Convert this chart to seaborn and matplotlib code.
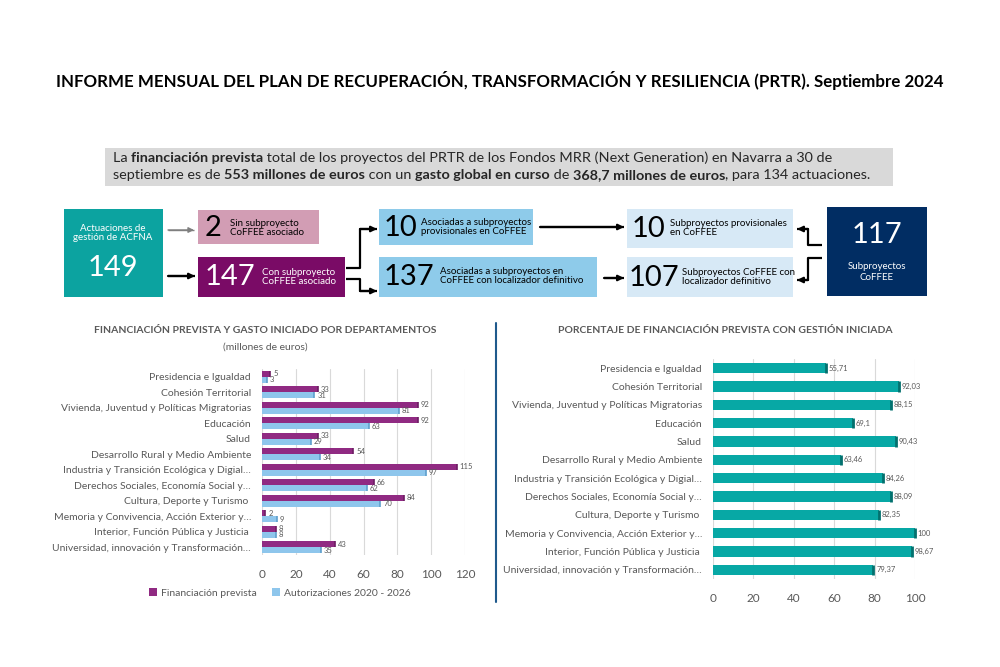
import matplotlib
matplotlib.use("Agg")
import matplotlib.pyplot as plt
import matplotlib.patches as mpatches
import seaborn as sns
import pandas as pd

# data
departments = [
    "Presidencia e Igualdad",
    "Cohesión Territorial",
    "Vivienda, Juventud y Políticas Migratorias",
    "Educación",
    "Salud",
    "Desarrollo Rural y Medio Ambiente",
    "Industria y Transición Ecológica y Digial…",
    "Derechos Sociales, Economía Social y…",
    "Cultura, Deporte y Turismo ",
    "Memoria y Convivencia, Acción Exterior y…",
    "Interior, Función Pública y Justicia ",
    "Universidad, innovación y Transformación…",
]
financiacion_prevista = [5, 33, 92, 92, 33, 54, 115, 66, 84, 2, 8, 43]
autorizaciones = [3, 31, 81, 63, 29, 34, 97, 62, 70, 9, 8, 35]
porcentaje_gestion = [55.71, 92.03, 88.15, 69.1, 90.43, 63.46, 84.26, 88.09, 82.35, 100, 98.67, 79.37]
left_ticks = [0, 20, 40, 60, 80, 100, 120]
right_ticks = [0, 20, 40, 60, 80, 100]
series_names = ["Financiación prevista", "Autorizaciones 2020 - 2026"]

PURPLE = "#902a82"
LIGHT_BLUE = "#8ec6ec"
TEAL = "#07a8a5"
GRAY_TEXT = "#595959"

sns.set_theme(style="white")
plt.rcParams["font.family"] = ["Lato", "DejaVu Sans"]

fig = plt.figure(figsize=(10, 6.67), dpi=100)

# overlay in pixel coordinates for the infographic part
ov = fig.add_axes([0, 0, 1, 1], zorder=0)
ov.set_xlim(0, 1000)
ov.set_ylim(667, 0)
ov.axis("off")

ov.text(500, 80, "INFORME MENSUAL DEL PLAN DE RECUPERACIÓN, TRANSFORMACIÓN Y RESILIENCIA (PRTR). Septiembre 2024",
        ha="center", va="center", fontsize=12.2, fontweight="bold", color="black")

ov.add_patch(mpatches.Rectangle((105, 148), 788, 38, color="#d9d9d9", lw=0))
line1 = [("La ", "normal"), ("financiación prevista", "bold"),
         (" total de los proyectos del PRTR de los Fondos MRR (Next Generation) en Navarra a 30 de", "normal")]
line2 = [("septiembre es de ", "normal"), ("553 millones de euros", "bold"), (" con un ", "normal"),
         ("gasto global en curso", "bold"), (" de ", "normal"), ("368,7 millones de euros", "bold"),
         (", para 134 actuaciones.", "normal")]


def rich_line(parts, x, y):
    renderer = fig.canvas.get_renderer()
    for txt, weight in parts:
        t = ov.text(x, y, txt, ha="left", va="center", fontsize=10.4, fontweight=weight, color="#262626")
        bb = t.get_window_extent(renderer=renderer)
        x += bb.width * 1000 / fig.bbox.width


rich_line(line1, 113, 158)
rich_line(line2, 113, 175)


def box(x, y, w, h, color):
    ov.add_patch(mpatches.Rectangle((x, y), w, h, color=color, lw=0))


def arrow(pts, color="black", lw=1.6):
    xs = [p[0] for p in pts]
    ys = [p[1] for p in pts]
    ov.plot(xs, ys, color=color, lw=lw, solid_capstyle="butt")
    ov.annotate("", xy=pts[-1], xytext=pts[-2],
                arrowprops=dict(arrowstyle="-|>", color=color, lw=lw, mutation_scale=8, shrinkA=0, shrinkB=0))


# teal box
box(64, 209, 99, 88, "#0ca3a0")
ov.text(113, 233, "Actuaciones de\ngestión de ACFNA", ha="center", va="center", fontsize=7, color="white",
        linespacing=1.1)
ov.text(113, 268, "149", ha="center", va="center", fontsize=21, color="white")

# pink and purple boxes
box(198, 210, 121, 34, "#d29db4")
ov.text(205, 228, "2", ha="left", va="center", fontsize=21, color="black")
ov.text(230, 228, "Sin subproyecto\nCoFFEE asociado", ha="left", va="center", fontsize=7, color="black",
        linespacing=1.1)
box(198, 257, 147, 40, "#7a0b66")
ov.text(205, 277, "147", ha="left", va="center", fontsize=21, color="white")
ov.text(262, 277, "Con subproyecto\nCoFFEE asociado", ha="left", va="center", fontsize=7, color="white",
        linespacing=1.1)

arrow([(168, 230), (194, 230)], color="#7f7f7f", lw=1)
arrow([(168, 276), (195, 276)])

# light blue boxes
box(379, 209, 154, 36, "#8ecbea")
ov.text(384, 228, "10", ha="left", va="center", fontsize=21, color="black")
ov.text(421, 227, "Asociadas a subproyectos\nprovisionales en CoFFEE", ha="left", va="center", fontsize=7,
        color="black", linespacing=1.1)
box(379, 257, 218, 40, "#8ecbea")
ov.text(384, 277, "137", ha="left", va="center", fontsize=21, color="black")
ov.text(440, 276, "Asociadas a subproyectos en\nCoFFEE con localizador definitivo", ha="left", va="center",
        fontsize=7, color="black", linespacing=1.1)

arrow([(346, 268), (360, 268), (360, 229), (377, 229)])
arrow([(346, 279), (360, 279), (360, 291), (377, 291)])

# pale boxes
box(627, 209, 166, 39, "#d7e9f6")
ov.text(632, 229, "10", ha="left", va="center", fontsize=21, color="black")
ov.text(670, 228, "Subproyectos provisionales\nen CoFFEE", ha="left", va="center", fontsize=7,
        color="black", linespacing=1.1)
box(627, 257, 166, 40, "#d7e9f6")
ov.text(629, 278, "107", ha="left", va="center", fontsize=21, color="black")
ov.text(682, 277, "Subproyectos CoFFEE con\nlocalizador definitivo", ha="left", va="center", fontsize=7,
        color="black", linespacing=1.1)

arrow([(540, 227), (624, 227)])
arrow([(604, 278), (624, 278)])

# navy box
box(827, 207, 100, 89, "#012d63")
ov.text(877, 235, "117", ha="center", va="center", fontsize=21, color="white")
ov.text(877, 272, "Subproyectos\nCoFFEE", ha="center", va="center", fontsize=7, color="white", linespacing=1.2)

arrow([(822, 245), (808, 245), (808, 229), (797, 229)])
arrow([(822, 258), (808, 258), (808, 280), (797, 280)])

# divider
ov.plot([496, 496], [323, 602], color="#1f5a8c", lw=1.5)

# left chart
left_df = pd.DataFrame({
    "departamento": departments * 2,
    "valor": financiacion_prevista + autorizaciones,
    "serie": [series_names[0]] * len(departments) + [series_names[1]] * len(departments),
})
ax1 = fig.add_axes([0.262, 1 - 555 / 667, 0.203, 186 / 667], zorder=2)
ax1.patch.set_alpha(0)
sns.barplot(data=left_df, x="valor", y="departamento", hue="serie", orient="h", ax=ax1,
            palette=[PURPLE, LIGHT_BLUE], width=0.78, edgecolor="none", saturation=1, legend=True)
ax1.set_xlim(0, 120)
ax1.set_xticks(left_ticks)
ax1.set_ylim(11.5, -0.5)
ax1.set_xlabel("")
ax1.set_ylabel("")
ax1.grid(axis="x", color="#d9d9d9", lw=0.8)
ax1.set_axisbelow(True)
for s in ax1.spines.values():
    s.set_visible(False)
ax1.tick_params(axis="y", labelsize=7.5, labelcolor=GRAY_TEXT, pad=8, length=0)
ax1.tick_params(axis="x", labelsize=8.5, labelcolor=GRAY_TEXT, pad=10, length=0)
for cont, edge in zip(ax1.containers, ["#6e1d63", "#5f9fcc"]):
    for p in cont:
        ax1.plot([p.get_x() + p.get_width()] * 2, [p.get_y(), p.get_y() + p.get_height()],
                 color=edge, lw=1.2, solid_capstyle="butt", clip_on=False)
    ax1.bar_label(cont, fmt="%d", padding=2, fontsize=5.5, color=GRAY_TEXT)
ax1.legend(loc="center", bbox_to_anchor=(280 / 1000, 1 - 593 / 667), bbox_transform=fig.transFigure,
           ncol=2, frameon=False, fontsize=7.5, handlelength=0.7, handleheight=0.7, columnspacing=1.5,
           handletextpad=0.4, labelcolor=GRAY_TEXT)
fig.text(265 / 1000, 1 - 331 / 667, "FINANCIACIÓN PREVISTA Y GASTO INICIADO POR DEPARTAMENTOS",
         ha="center", va="center", fontsize=7.5, fontweight="bold", color=GRAY_TEXT)
fig.text(265 / 1000, 1 - 347 / 667, "(millones de euros)", ha="center", va="center", fontsize=7.5,
         color=GRAY_TEXT)

# right chart
right_df = pd.DataFrame({"departamento": departments, "porcentaje": porcentaje_gestion})
ax2 = fig.add_axes([0.713, 1 - 579 / 667, 0.202, 220 / 667], zorder=2)
ax2.patch.set_alpha(0)
sns.barplot(data=right_df, x="porcentaje", y="departamento", orient="h", ax=ax2, color=TEAL,
            width=0.58, edgecolor="none", saturation=1)
ax2.set_xlim(0, 100)
ax2.set_xticks(right_ticks)
ax2.set_ylim(11.5, -0.5)
ax2.set_xlabel("")
ax2.set_ylabel("")
ax2.grid(axis="x", color="#d9d9d9", lw=0.8)
ax2.set_axisbelow(True)
for s in ax2.spines.values():
    s.set_visible(False)
ax2.tick_params(axis="y", labelsize=7.5, labelcolor=GRAY_TEXT, pad=8, length=0)
ax2.tick_params(axis="x", labelsize=8.5, labelcolor=GRAY_TEXT, pad=10, length=0)
for p in ax2.containers[0]:
    ax2.plot([p.get_x() + p.get_width()] * 2, [p.get_y(), p.get_y() + p.get_height()],
             color="#03706e", lw=2, solid_capstyle="butt", clip_on=False)
ax2.bar_label(ax2.containers[0], labels=[f"{v:g}".replace(".", ",") for v in porcentaje_gestion],
              padding=2, fontsize=5.5, color=GRAY_TEXT)
fig.text(725 / 1000, 1 - 331 / 667, "PORCENTAJE DE FINANCIACIÓN PREVISTA CON GESTIÓN INICIADA",
         ha="center", va="center", fontsize=7.5, fontweight="bold", color=GRAY_TEXT)

fig.savefig("out.png", dpi=100, facecolor="white")
